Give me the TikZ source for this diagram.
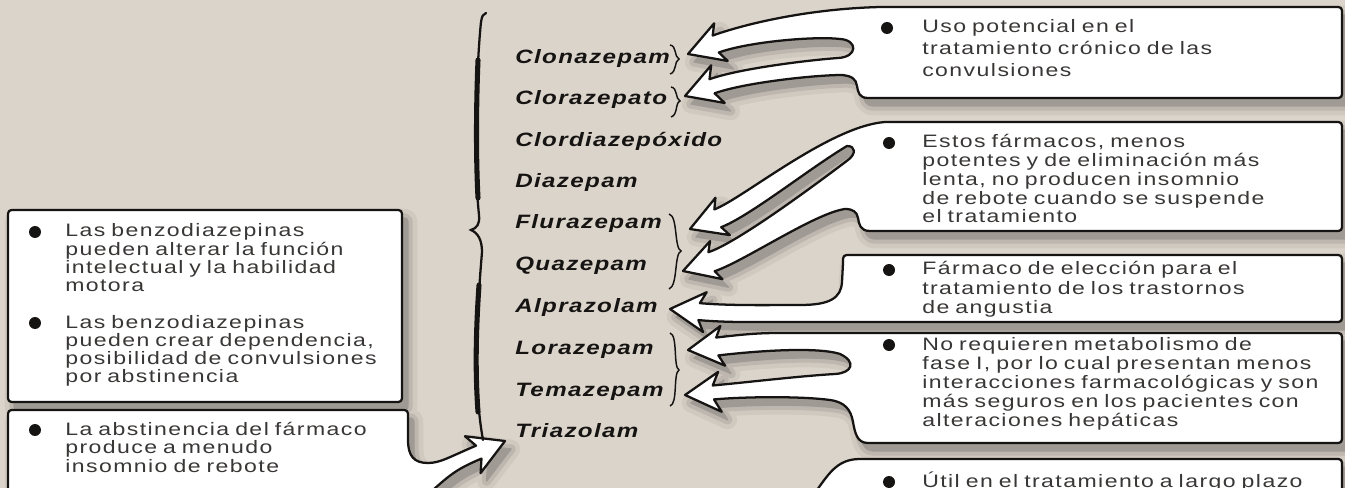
\documentclass[tikz,border=0pt]{standalone}
\usepackage{fontspec}
\setmainfont{Liberation Sans}
\newfontfamily\bxfont[FakeStretch=1.28,LetterSpace=8]{Liberation Sans}
\newfontfamily\drfont[FakeStretch=1.25,LetterSpace=7]{Liberation Sans}
\usetikzlibrary{calc}
\definecolor{bg}{RGB}{219,212,203}
\definecolor{shA}{RGB}{208,201,192}
\definecolor{shB}{RGB}{190,183,175}
\definecolor{shC}{RGB}{160,154,148}
\definecolor{ink}{RGB}{22,20,18}
\newcommand\bxsize[1]{\bxfont\fontsize{13.5pt}{#1}\selectfont}
\newcommand\mkhead[4]{%
  \coordinate (#1-t) at #2;
  \coordinate (#1-d) at #3;
  \pgfmathsetmacro\hjd{(25+#4/2)*0.75}%
  \pgfmathsetmacro\hhw{#4*0.75}%
  \coordinate (#1-ax) at ($(#1-t)!\hjd pt!(#1-d)$);
  \coordinate (#1-bx) at ($(#1-t)!26.25pt!(#1-d)$);
  \coordinate (#1-j1) at ($(#1-ax)!\hhw pt!90:(#1-d)$);
  \coordinate (#1-j2) at ($(#1-ax)!\hhw pt!-90:(#1-d)$);
  \coordinate (#1-b1) at ($(#1-bx)!15pt!90:(#1-d)$);
  \coordinate (#1-b2) at ($(#1-bx)!15pt!-90:(#1-d)$);
  \coordinate (#1-c1) at ($(#1-j1)+0.3*(#1-d)-0.3*(#1-t)$);
  \coordinate (#1-c2) at ($(#1-j2)+0.3*(#1-d)-0.3*(#1-t)$);
}
\newcommand\gA{(880,7) -- (1334,7) .. controls (1342,7) .. (1342,15) -- (1342,90) .. controls (1342,98) .. (1334,98) -- (868,98) .. controls (859,98) and (858,92) .. (857,86) .. controls (856,79) and (852,76) .. (842,75) .. controls (815,75) and (A2-c2) .. (A2-j2) -- (A2-b2) -- (A2-t) -- (A2-b1) -- (A2-j1) .. controls (A2-c1) and (810,60) .. (838,58) .. controls (858,57) and (858,40) .. (840,39) .. controls (815,36) and (A1-c2) .. (A1-j2) -- (A1-b2) -- (A1-t) -- (A1-b1) -- (A1-j1) .. controls (A1-c1) and (805,9) .. (880,7) -- cycle}
\newcommand\gB{(885,122) -- (1334,122) .. controls (1342,122) .. (1342,130) -- (1342,223) .. controls (1342,231) .. (1334,231) -- (870,231) .. controls (860,231) and (859,224) .. (858,218) .. controls (857,212) and (853,209) .. (845,209) .. controls (815,213) and (A4-c2) .. (A4-j2) -- (A4-b2) -- (A4-t) -- (A4-b1) -- (A4-j1) .. controls (A4-c1) and (815,185) .. (848,160) .. controls (856,154) and (856,146) .. (847,146) .. controls (810,168) and (A3-c2) .. (A3-j2) -- (A3-b2) -- (A3-t) -- (A3-b1) -- (A3-j1) .. controls (A3-c1) and (830,126) .. (885,122) -- cycle}
\newcommand\gC{(851,255) -- (1334,255) .. controls (1342,255) .. (1342,263) -- (1342,314) .. controls (1342,322) .. (1334,322) -- (790,322) .. controls (760,322) and (A5-c2) .. (A5-j2) -- (A5-b2) -- (A5-t) -- (A5-b1) -- (A5-j1) .. controls (A5-c1) and (770,305) .. (800,305) .. controls (830,305) and (841,298) .. (842,282) -- (843,263) .. controls (843,255) .. (851,255) -- cycle}
\newcommand\gD{(780,333) -- (1334,333) .. controls (1342,333) .. (1342,341) -- (1342,435) .. controls (1342,443) .. (1334,443) -- (868,443) .. controls (857,443) and (855,433) .. (853,422) .. controls (851,410) and (845,402) .. (830,400) .. controls (800,396) and (A7-c2) .. (A7-j2) -- (A7-b2) -- (A7-t) -- (A7-b1) -- (A7-j1) .. controls (A7-c1) and (800,376) .. (835,374) .. controls (852,373) and (857,362) .. (840,354) .. controls (815,346) and (A6-c2) .. (A6-j2) -- (A6-b2) -- (A6-t) -- (A6-b1) -- (A6-j1) .. controls (A6-c1) and (760,333) .. (780,333) -- cycle}
\newcommand\gE{(812,497) .. controls (828,475) and (836,459) .. (860,459) -- (1334,459) .. controls (1342,459) .. (1342,467) -- (1342,497) -- cycle}
\newcommand\gL{(8,418) .. controls (8,410) .. (16,410) -- (400,410) .. controls (408,410) .. (408,418) -- (408,440) .. controls (408,456) and (414,463) .. (428,463) .. controls (440,463) and (A8-c2) .. (A8-j2) -- (A8-b2) -- (A8-t) -- (A8-b1) -- (A8-j1) .. controls (A8-c1) and (450,475) .. (425,497) -- (8,497) -- cycle}
\newcommand\gK{(8,218) .. controls (8,210) .. (16,210) -- (394,210) .. controls (402,210) .. (402,218) -- (402,394) .. controls (402,402) .. (394,402) -- (16,402) .. controls (8,402) .. (8,394) -- cycle}
\newcommand\allshapes[1]{\path[#1] \gA; \path[#1] \gB; \path[#1] \gC; \path[#1] \gD; \path[#1] \gE; \path[#1] \gL; \path[#1] \gK;}
\tikzset{
  callout/.style={fill=white, draw=ink, line width=1.7pt, line join=round},
  bxtext/.style={anchor=base west, inner sep=0pt, align=left, text width=335pt, text=ink!85, font=\bxsize{14.1pt}},
  bullet/.style={circle, fill=ink, inner sep=0pt, minimum size=9pt},
  drug/.style={anchor=base west, inner sep=0pt, text=ink, font=\drfont\bfseries\itshape\fontsize{14.5pt}{16pt}\selectfont},
  smallbrace/.style={draw=ink, line width=1.1pt},
  bigbrace/.style={draw=ink, line width=1.7pt, line cap=round}
}
\begin{document}
\begin{tikzpicture}[x=0.75pt, y=-0.75pt]
\useasboundingbox (0,0) rectangle (1345,488);
\clip (0,0) rectangle (1345,488);
\fill[bg] (0,0) rectangle (1345,488);
% arrow heads
\mkhead{A1}{(688,54)}{(788,18)}{9}
\mkhead{A2}{(685,96)}{(785,60)}{7.5}
\mkhead{A3}{(690,229)}{(786,192)}{9.5}
\mkhead{A4}{(683,271)}{(778,240)}{10}
\mkhead{A5}{(670,309)}{(770,318)}{8.5}
\mkhead{A6}{(688,350)}{(788,338)}{9}
\mkhead{A7}{(685,395)}{(785,386)}{7}
\mkhead{A8}{(505,441)}{(413,480)}{7}
% shadows
\begin{scope}[transform canvas={shift={(6,8)}}]
\allshapes{fill=shA, draw=shA, line width=14pt, line join=round}
\allshapes{fill=shB, draw=shB, line width=7pt, line join=round}
\allshapes{fill=shC, draw=shC, line width=1pt, line join=round}
\end{scope}
% callouts
\allshapes{callout}
% right texts
\node[bullet] (uA) at (887,28) {};
\node[bxtext, font=\bxsize{16.5pt}] (tA) at (922,33) {Uso potencial en el\\tratamiento crónico de las\\convulsiones};
\node[bullet] (uB) at (889,143) {};
\node[bxtext, font=\bxsize{14.06pt}] (tB) at (922,148) {Estos fármacos, menos\\potentes y de eliminación más\\lenta, no producen insomnio\\de rebote cuando se suspende\\el tratamiento};
\node[bullet] (uC) at (889,270) {};
\node[bxtext, font=\bxsize{14.25pt}] (tC) at (922,275) {Fármaco de elección para el\\tratamiento de los trastornos\\de angustia};
\node[bullet] (uD) at (889,345) {};
\node[bxtext, font=\bxsize{14.4pt}] (tD) at (922,350) {No requieren metabolismo de\\fase I, por lo cual presentan menos\\interacciones farmacológicas y son\\más seguros en los pacientes con\\alteraciones hepáticas};
\node[bullet] (uE) at (889,482) {};
\node[bxtext] (tE) at (922,487) {Útil en el tratamiento a largo plazo};
% left texts
\node[bullet] (uK1) at (35,232) {};
\node[bxtext, font=\bxsize{13.7pt}] (tK1) at (65,237) {Las benzodiazepinas\\pueden alterar la función\\intelectual y la habilidad\\motora};
\node[bullet] (uK2) at (35,323) {};
\node[bxtext, font=\bxsize{13.7pt}] (tK2) at (65,328) {Las benzodiazepinas\\pueden crear dependencia,\\posibilidad de convulsiones\\por abstinencia};
\node[bullet] (uL) at (35,430) {};
\node[bxtext, font=\bxsize{13.9pt}] (tL) at (65,435) {La abstinencia del fármaco\\produce a menudo\\insomnio de rebote};
% drug names
\node[drug] (d1) at (515,64) {Clonazepam};
\node[drug] (d2) at (515,105) {Clorazepato};
\node[drug] (d3) at (515,147) {Clordiazepóxido};
\node[drug] (d4) at (515,188) {Diazepam};
\node[drug] (d5) at (515,229) {Flurazepam};
\node[drug] (d6) at (515,271) {Quazepam};
\node[drug] (d7) at (515,312) {Alprazolam};
\node[drug] (d8) at (515,354) {Lorazepam};
\node[drug] (d9) at (515,396) {Temazepam};
\node[drug] (d10) at (515,437) {Triazolam};
% big brace
\draw[bigbrace] (486,13) .. controls (483,14) and (482,16) .. (481,22) .. controls (476,70) and (474,170) .. (479,215) .. controls (480,224) and (477,228) .. (471,230) .. controls (478,233) and (482,240) .. (482,252) .. controls (478,300) and (472,380) .. (483,440);
\draw[draw=ink, line width=3.8pt, line cap=round] (478,60) .. controls (476,110) and (476,160) .. (478,198);
\draw[draw=ink, line width=3.8pt, line cap=round] (479,285) .. controls (476,330) and (475,370) .. (478,412);
% small braces
\draw[smallbrace] (670,45) .. controls (677,46) and (674,57) .. (679,59) .. controls (674,61) and (677,72) .. (670,74);
\draw[smallbrace] (671,87) .. controls (678,88) and (675,99) .. (680,101) .. controls (675,103) and (678,115) .. (671,117);
\draw[smallbrace] (669,214) .. controls (678,216) and (674,248) .. (681,251) .. controls (674,254) and (678,286) .. (669,289);
\draw[smallbrace] (670,333) .. controls (678,335) and (673,367) .. (679,370) .. controls (673,373) and (678,404) .. (670,406);
\end{tikzpicture}
\end{document}
